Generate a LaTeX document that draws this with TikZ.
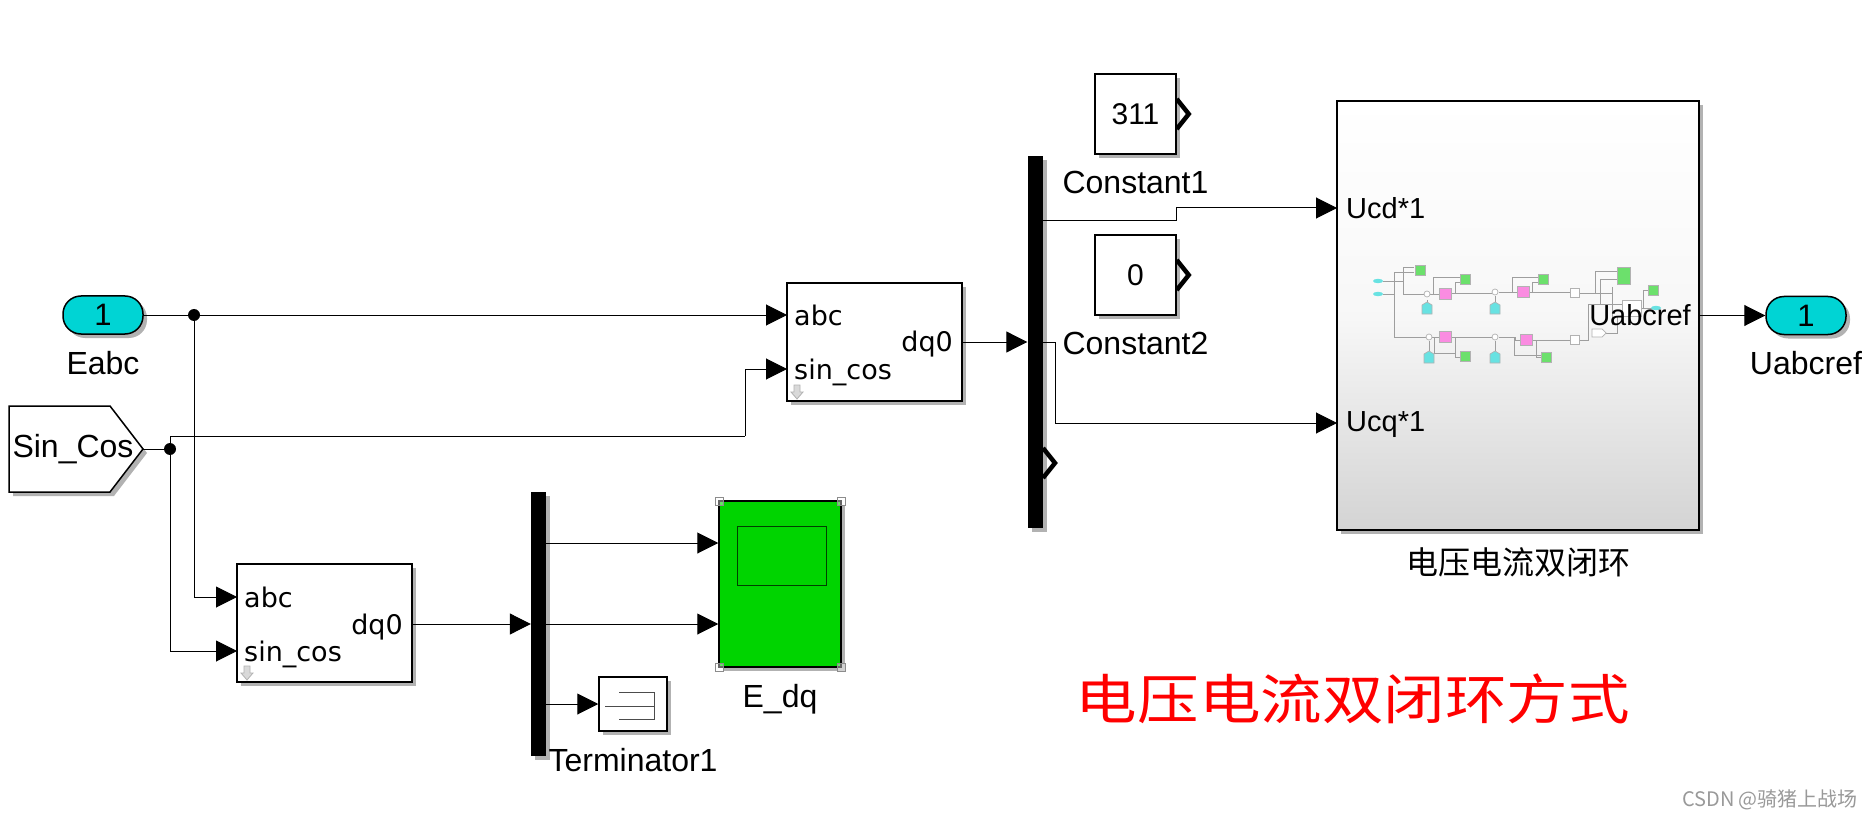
\documentclass[tikz,border=0pt]{standalone}
\usepackage{fontspec}
\setmainfont{Liberation Sans}
\newfontfamily\portfont{DejaVu Sans}
\newfontfamily\cjk{Noto Sans CJK SC}
\usetikzlibrary{positioning,arrows.meta,calc,shadows}
\definecolor{portcyan}{RGB}{0,212,212}
\definecolor{scopegreen}{RGB}{0,212,0}
\definecolor{minigreen}{RGB}{108,224,108}
\definecolor{minipink}{RGB}{250,140,225}
\definecolor{minicyan}{RGB}{104,226,226}
\tikzset{
  shade3/.style = {drop shadow={shadow xshift=4pt,shadow yshift=-4pt,fill=black,opacity=.3}},
  blockbox/.style = {rectangle, draw, line width=1.5pt, fill=white, inner sep=0pt, shade3},
  inport/.style = {blockbox, rounded corners=18pt, minimum width=80pt, minimum height=38pt,
                   fill=portcyan, font=\fontsize{31}{34}\selectfont},
  mux/.style = {rectangle, fill=black, draw=none, inner sep=0pt, minimum width=15pt, shade3},
  conv/.style = {blockbox, minimum width=175pt, minimum height=118pt},
  const/.style = {blockbox, minimum width=81pt, minimum height=80pt, font=\fontsize{30}{34}\selectfont},
  lab/.style = {inner sep=0pt, font=\fontsize{32}{36}\selectfont},
  plab/.style = {inner sep=0pt, font=\portfont\fontsize{27}{32}\selectfont},
  ulab/.style = {inner sep=0pt, font=\fontsize{29}{34}\selectfont},
  wire/.style = {line width=1pt},
  arr/.style = {wire, -{Triangle[length=21pt,width=21pt]}},
  chev/.style = {line width=4.5pt, miter limit=10},
  junct/.style = {circle, fill=black, inner sep=0pt, minimum size=12pt},
  mini/.style = {draw=black!30, line width=.7pt},
  minil/.style = {draw=black!38, line width=.6pt},
  dnarrow/.style = {draw=black!30, fill=black!15, line width=.8pt}
}
\newcommand{\outchev}[1]{\draw[chev] ($(#1)+(0,-15)$) -- ++(12,15) -- ++(-12,15);}
\newcommand{\dnicon}[1]{\draw[dnarrow] ($(#1)+(-3,-7)$) -- ++(6,0) -- ++(0,7) -- ++(3,0) -- ++(-6,7) -- ++(-6,-7) -- ++(3,0) -- cycle;}
\begin{document}
\begin{tikzpicture}[x=1pt,y=-1pt]
    \useasboundingbox (0,0) rectangle (1871,818);
    \node[inport] (eabc) at (103,315) {1};
    \node[lab,below=16pt of eabc] (eabclab) {Eabc};
    \draw[line width=1.5pt,fill=white,shade3] (9,406)--(110,406)--(143,449)--(110,492)--(9,492)--cycle;
    \coordinate (sincostip) at (143,449);
    \node[lab] (sincoslab) at (73,449) {Sin\_Cos};
    \node[junct] (dotA) at (194,315) {};
    \node[junct] (dotB) at (170,449) {};
    \coordinate (kneeB) at (745,436);
    % park blocks
    \node[conv] (parkA) at (874.5,342) {};
    \node[conv] (parkB) at (324.5,623) {};
    \coordinate (parkAabc) at (787,315);
    \coordinate (parkAsc) at (787,369);
    \coordinate (parkBabc) at (237,597);
    \coordinate (parkBsc) at (237,651);
    \node[plab,anchor=west] (abcA) at (794,315) {abc};
    \node[plab,anchor=west] (scA) at (794,372) {sin\_cos};
    \node[plab,anchor=east] (dqA) at (953,344) {dq0};
    \node[plab,anchor=west] (abcB) at (244,597) {abc};
    \node[plab,anchor=west] (scB) at (244,654) {sin\_cos};
    \node[plab,anchor=east] (dqB) at (403,627) {dq0};
    \dnicon{797,392}
    \dnicon{247,673}
    % muxes
    \node[mux,minimum height=372pt] (muxA) at (1035,342) {};
    \node[mux,minimum height=264pt] (muxB) at (538.5,624) {};
    \outchev{1043,463}
    % constants
    \node[const] (consta) at (1135.5,114) {311};
    \node[const] (constb) at (1135.5,275) {0};
    \node[lab,below=16pt of consta] (constalab) {Constant1};
    \node[lab,below=16pt of constb] (constblab) {Constant2};
    \outchev{consta.east}
    \outchev{constb.east}
    % voltage current loop
    \node[blockbox,minimum width=362pt,minimum height=429pt,top color=white,bottom color=black!17,
          middle color=black!3] (loop) at (1518,315.5) {};
    \node[font=\cjk\fontsize{32}{36}\selectfont,inner sep=0pt,below=17pt of loop] (looplab) {电压电流双闭环};
    \coordinate (ucdin) at (1337,208);
    \coordinate (ucqin) at (1337,423);
    \coordinate (kneeC) at (1176,221);
    \coordinate (kneeD) at (1055,342);
    \draw[minil] (1383,281)--(1403,281) (1414,267)-|(1403,294)--(1424,294)
      (1383,294)--(1394,294) (1414,272)-|(1394,337)--(1426,337)
      (1430,294)--(1439,294) (1433,294)|-(1460,277) (1451,293)--(1492,293) (1455,293)|-(1460,282)
      (1499,292)--(1517,292) (1512,292)|-(1538,277) (1529,292)--(1570,292) (1532,292)|-(1538,282)
      (1580,293)--(1612,293) (1595,293)|-(1617,271) (1600,293)|-(1617,279) (1600,293)|-(1622,304)
      (1612,287)--(1612,325) (1641,308)--(1652,308) (1643,308)|-(1648,290)
      (1432,337)--(1439,337) (1451,337)--(1492,337) (1434,337)|-(1455,353) (1455,337)|-(1460,357)
      (1499,337)--(1515,337)|-(1520,340) (1514,337)|-(1541,355) (1532,340)--(1570,340) (1536,340)|-(1541,357)
      (1580,340)--(1588,340)|-(1622,304) (1606,333)-|(1617,316)
      (1427,300)--(1427,304) (1495,296)--(1495,302) (1429,341)--(1429,351) (1495,341)--(1495,351);
    \foreach \x/\y in {1378/281,1378/294,1656/308}
      \fill[minicyan] (\x,\y) ellipse (5 and 2.2);
    \foreach \x/\y in {1420/270,1465/279,1543/279,1653/290,1465/356,1546/357}
      \filldraw[mini,fill=minigreen] (\x-5,\y-5) rectangle (\x+5,\y+5);
    \filldraw[mini,fill=minigreen] (1617.5,267) rectangle (1630.5,284);
    \foreach \x/\y in {1445/294,1523/292,1445/337,1526/340}
      \filldraw[mini,fill=minipink] (\x-6,\y-5.5) rectangle (\x+6,\y+5.5);
    \foreach \x/\y in {1427/294,1495/292,1429/337,1495/337}
      \filldraw[mini,fill=white] (\x,\y) circle (3);
    \foreach \x/\y in {1427/308,1495/308,1429/357,1495/357}
      \filldraw[mini,fill=minicyan] (\x-5,\y+6)--(\x-5,\y-3)--(\x,\y-6)--(\x+5,\y-3)--(\x+5,\y+6)--cycle;
    \foreach \x/\y in {1575/293,1575/340}
      \filldraw[mini,fill=white] (\x-4.5,\y-4.5) rectangle (\x+4.5,\y+4.5);
    \filldraw[mini,fill=white] (1622,300) rectangle (1641,316);
    \filldraw[mini,fill=white] (1592,329)--(1602,329)--(1606,333)--(1602,337)--(1592,337)--cycle;
    \node[ulab,anchor=west] (ucdlab) at (1346,208) {Ucd*1};
    \node[ulab,anchor=west] (ucqlab) at (1346,425) {Ucq*1};
    \node[ulab,anchor=east] (uabclab) at (1691,315) {Uabcref};
    % scope and terminator
    \node[blockbox,fill=scopegreen,minimum width=122pt,minimum height=166pt] (scope) at (780,584) {};
    \node[draw=black!70!scopegreen,line width=1pt,inner sep=0pt,minimum width=89pt,minimum height=59pt] (screen) at (781.5,555.5) {};
    \node[lab,below=16pt of scope] (scopelab) {E\_dq};
    \foreach \x/\y in {719/501,841/501,719/667,841/667}
      \draw[black!45,line width=.8pt,fill=white,fill opacity=.4] (\x-4,\y-4) rectangle (\x+4,\y+4);
    \node[blockbox,minimum width=68pt,minimum height=54pt] (term) at (633,704) {};
    \draw[wire,black!70,line width=1pt] (619,692)-|(654,719)--(619,719) (605,706)--(654,706);
    \node[lab,below=16pt of term] (termlab) {Terminator1};
    % output
    \node[inport] (uabc) at (1806,315.5) {1};
    \node[lab,below=16pt of uabc] (uabcreflab) {Uabcref};
    % wires
    \draw[wire] (sincostip)--(dotB);
    \draw[wire] (eabc.east)--(dotA);
    \draw[arr] (dotA)--(parkAabc);
    \draw[arr] (dotA)|-(parkBabc);
    \draw[arr] (dotB)|-(parkBsc);
    \draw[wire] (dotB)|-(kneeB);
    \draw[arr] (kneeB)|-(parkAsc);
    \draw[arr] (parkA.east)--(muxA.west|-parkA);
    \draw[arr] (parkB.east|-0,624)--(muxB.west|-0,624);
    \draw[wire] (muxA.east|-kneeC)--(kneeC);
    \draw[arr] (kneeC)|-(ucdin);
    \draw[wire] (muxA.east|-kneeD)--(kneeD);
    \draw[arr] (kneeD)|-(ucqin);
    \draw[arr] (loop.east|-uabc)--(uabc.west);
    \draw[arr] (muxB.east|-0,543)--(scope.west|-0,543);
    \draw[arr] (muxB.east|-0,624)--(scope.west|-0,624);
    \draw[arr] (muxB.east|-term)--(term.west);
    % captions
    \node[font=\cjk\fontsize{54}{60}\selectfont,text=red,inner sep=0pt,xscale=1.14,transform shape] (capt) at (1353,699) {电压电流双闭环方式};
    \node[font=\cjk\fontsize{20}{24}\selectfont,text=black!40,inner sep=0pt] (mark) at (1770,800) {CSDN @骑猪上战场};
  \end{tikzpicture}
\end{document}
